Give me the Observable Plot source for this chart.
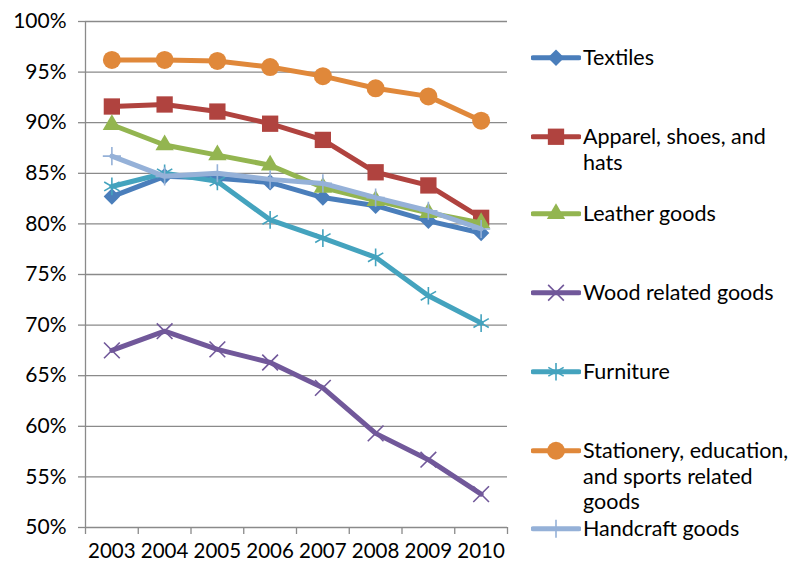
<!DOCTYPE html>
<html>
<head>
<meta charset="utf-8">
<script src="https://cdn.jsdelivr.net/npm/d3@7"></script>
<script src="https://cdn.jsdelivr.net/npm/@observablehq/plot@0.6"></script>
<style>
  body { margin: 0; background: #fff; }
  #wrap { position: relative; width: 795px; height: 566px; font-family: Lato, "Open Sans", sans-serif; }
  #wrap svg.plot { position: absolute; left: 0; top: 0; }
  .leg { position: absolute; left: 531px; display: flex; align-items: flex-start; font-size: 21.5px; line-height: 25.5px; color: #000; white-space: nowrap; }
  .leg svg { flex: none; margin-top: 0; }
  .leg span { margin-left: 2px; }
</style>
</head>
<body>
<div id="wrap"></div>
<script>
const years = [2003, 2004, 2005, 2006, 2007, 2008, 2009, 2010];
const seriesNames = [
  "Textiles",
  "Apparel, shoes, and hats",
  "Leather goods",
  "Wood related goods",
  "Furniture",
  "Stationery, education, and sports related goods",
  "Handcraft goods"
];
const legendLines = [
  ["Textiles"],
  ["Apparel, shoes, and", "hats"],
  ["Leather goods"],
  ["Wood related goods"],
  ["Furniture"],
  ["Stationery, education,", "and sports related", "goods"],
  ["Handcraft goods"]
];
// values in percent
const textiles   = [82.7, 84.7, 84.5, 84.1, 82.6, 81.8, 80.3, 79.1];
const apparel    = [91.6, 91.8, 91.1, 89.9, 88.3, 85.1, 83.8, 80.6];
const leather    = [89.8, 87.8, 86.8, 85.8, 83.6, 82.3, 81.1, 80.1];
const wood       = [67.5, 69.4, 67.6, 66.3, 63.8, 59.3, 56.7, 53.3];
const furniture  = [83.7, 85.0, 84.2, 80.4, 78.6, 76.7, 72.9, 70.2];
const stationery = [96.2, 96.2, 96.1, 95.5, 94.6, 93.4, 92.6, 90.2];
const handcraft  = [86.7, 84.7, 85.0, 84.4, 84.0, 82.6, 81.3, 79.5];
const yTicks = [50, 55, 60, 65, 70, 75, 80, 85, 90, 95, 100];

const seriesValues = [textiles, apparel, leather, wood, furniture, stationery, handcraft];
const colors = ["#4A7EBB", "#B0433F", "#93B550", "#71589A", "#44A3BE", "#E0883A", "#95B1D8"];
const symbols = ["diamond2", "square", "triangle", "times", "asterisk", "circle", "plus"];
const filled = [true, true, true, false, false, true, false];
const radii = [7.4, 9.2, 6.8, 7.2, 8.4, 9, 5.9];

const data = [];
seriesNames.forEach((s, i) => {
  years.forEach((yr, j) => data.push({series: s, year: yr, value: seriesValues[i][j] / 100}));
});

const x0 = years[0] - 0.5, x1 = years[years.length - 1] + 0.5;
const boundaries = years.map(y => y - 0.5).concat([x1]);
const gray = "#8a8a8a";

const marks = [
  Plot.gridY(yTicks.map(v => v / 100), {stroke: gray, strokeOpacity: 1, strokeWidth: 1.3}),
  Plot.axisY(yTicks.map(v => v / 100), {
    tickFormat: d => Math.round(d * 100) + "%", tickSize: 7, tickPadding: 12,
    stroke: gray, strokeWidth: 1.3, fontSize: 21, fill: "#000", label: null
  }),
  Plot.axisX(boundaries, {tickFormat: () => "", tickSize: 7, stroke: gray, strokeWidth: 1.3, label: null}),
  Plot.axisX(years, {tickFormat: d => String(d), tickSize: 0, tickPadding: 16, fontSize: 20.5, fill: "#000", label: null}),
  Plot.ruleX([x0], {stroke: gray, strokeWidth: 1.3})
];

seriesNames.forEach((s, i) => {
  const d = data.filter(r => r.series === s);
  marks.push(Plot.line(d, {x: "year", y: "value", stroke: colors[i], strokeWidth: 5, strokeLinejoin: "round", strokeLinecap: "round"}));
  if (filled[i]) {
    marks.push(Plot.dot(d, {x: "year", y: "value", symbol: symbols[i], r: radii[i], fill: colors[i], stroke: "none"}));
  } else {
    marks.push(Plot.dot(d, {x: "year", y: "value", symbol: symbols[i], r: radii[i], fill: "none", stroke: colors[i], strokeWidth: 1.6}));
  }
});

const chart = Plot.plot({
  width: 795,
  height: 566,
  marginLeft: 85,
  marginRight: 288,
  marginTop: 21,
  marginBottom: 39,
  style: {fontFamily: "Lato, 'Open Sans', sans-serif", background: "#fff", color: "#000"},
  x: {domain: [x0, x1], axis: null},
  y: {domain: [0.5, 1], axis: null},
  marks
});
chart.classList.add("plot");
const wrap = document.getElementById("wrap");
wrap.appendChild(chart);

// Legend
const legendCenters = [58, 137, 214, 293, 372, 451, 529];
seriesNames.forEach((s, i) => {
  const item = document.createElement("div");
  item.className = "leg";
  item.style.top = (legendCenters[i] - 12.75) + "px";
  const svg = d3.create("svg").attr("width", 50).attr("height", 25.5);
  svg.append("line").attr("x1", 2).attr("x2", 48).attr("y1", 12.75).attr("y2", 12.75)
    .attr("stroke", colors[i]).attr("stroke-width", 5).attr("stroke-linecap", "round");
  const symMap = {diamond2: d3.symbolDiamond2, square: d3.symbolSquare, triangle: d3.symbolTriangle,
    times: d3.symbolTimes, asterisk: d3.symbolAsterisk, circle: d3.symbolCircle, plus: d3.symbolPlus};
  const size = Math.PI * radii[i] * radii[i];
  svg.append("path").attr("transform", "translate(25,12.75)")
    .attr("d", d3.symbol(symMap[symbols[i]], size)())
    .attr("fill", filled[i] ? colors[i] : "none")
    .attr("stroke", filled[i] ? "none" : colors[i])
    .attr("stroke-width", 1.6);
  item.appendChild(svg.node());
  const span = document.createElement("span");
  span.innerHTML = legendLines[i].join("<br>");
  item.appendChild(span);
  wrap.appendChild(item);
});
</script>
</body>
</html>
